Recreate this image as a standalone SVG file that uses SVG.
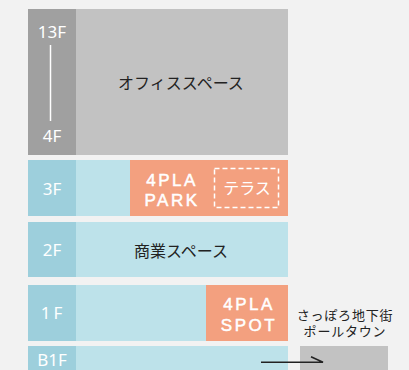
<svg xmlns="http://www.w3.org/2000/svg" width="409" height="370" viewBox="0 0 409 370">
<style>
.lbl{font-family:"Noto Sans","Liberation Sans",sans-serif;font-size:17px;fill:#ffffff;text-anchor:middle}
.jp{font-family:"Noto Sans CJK JP",sans-serif;font-size:16px;fill:#222222;text-anchor:middle}
.sm{font-size:13px;letter-spacing:0.8px}
.en{font-family:"Liberation Sans",sans-serif;font-size:17px;fill:#ffffff;stroke:#ffffff;stroke-width:0.5px;text-anchor:middle;letter-spacing:2.5px}
.col{fill:#9dcfdc}
.main{fill:#bde2ea}
.org{fill:#f3a07f}
</style>
<rect width="409" height="370" fill="#f2f2f2"/>
<g id="office">
<rect x="28" y="9" width="260" height="146" fill="#c2c2c2"/>
<rect x="28" y="9" width="48" height="146" fill="#a0a0a0"/>
<text class="lbl" x="52" y="38">13F</text>
<line x1="50.5" y1="45" x2="50.5" y2="121" stroke="#ffffff" stroke-width="1.5"/>
<text class="lbl" x="52" y="142">4F</text>
<text class="jp" x="181" y="89">オフィススペース</text>
</g>
<g id="floor3">
<rect class="main" x="28" y="160" width="260" height="56"/>
<rect class="col" x="28" y="160" width="48" height="56"/>
<text class="lbl" x="52" y="195">3F</text>
</g>
<g id="park">
<rect class="org" x="130" y="160" width="158" height="56"/>
<text class="en" x="172" y="185.5">4PLA</text>
<text class="en" x="172" y="205.5">PARK</text>
</g>
<g id="terrace">
<rect x="214.5" y="168.5" width="64" height="39" fill="none" stroke="#ffffff" stroke-width="1.5" stroke-dasharray="5 3"/>
<text class="jp" x="247" y="194" style="fill:#ffffff">テラス</text>
</g>
<g id="floor2">
<rect class="main" x="28" y="222" width="260" height="55"/>
<rect class="col" x="28" y="222" width="48" height="55"/>
<text class="lbl" x="52" y="256">2F</text>
<text class="jp" x="181" y="257">商業スペース</text>
</g>
<g id="floor1">
<rect class="main" x="28" y="285" width="260" height="56"/>
<rect class="col" x="28" y="285" width="48" height="56"/>
<text class="lbl" x="53" y="319" style="letter-spacing:3px">1F</text>
</g>
<g id="spot">
<rect class="org" x="206" y="285" width="82" height="56"/>
<text class="en" x="249" y="309.5">4PLA</text>
<text class="en" x="249" y="331">SPOT</text>
</g>
<g id="floorB1">
<rect class="main" x="28" y="346" width="260" height="30"/>
<rect class="col" x="28" y="346" width="48" height="30"/>
<text class="lbl" x="52" y="366">B1F</text>
</g>
<g id="poletown">
<rect x="300" y="346" width="88" height="30" fill="#c2c2c2"/>
<text class="jp sm" x="345" y="320">さっぽろ地下街</text>
<text class="jp sm" x="345" y="336">ポールタウン</text>
</g>
<g id="connectors">
<path d="M261 362.3H323L311 356.7" fill="none" stroke="#222222" stroke-width="1.5"/>
</g>
</svg>
